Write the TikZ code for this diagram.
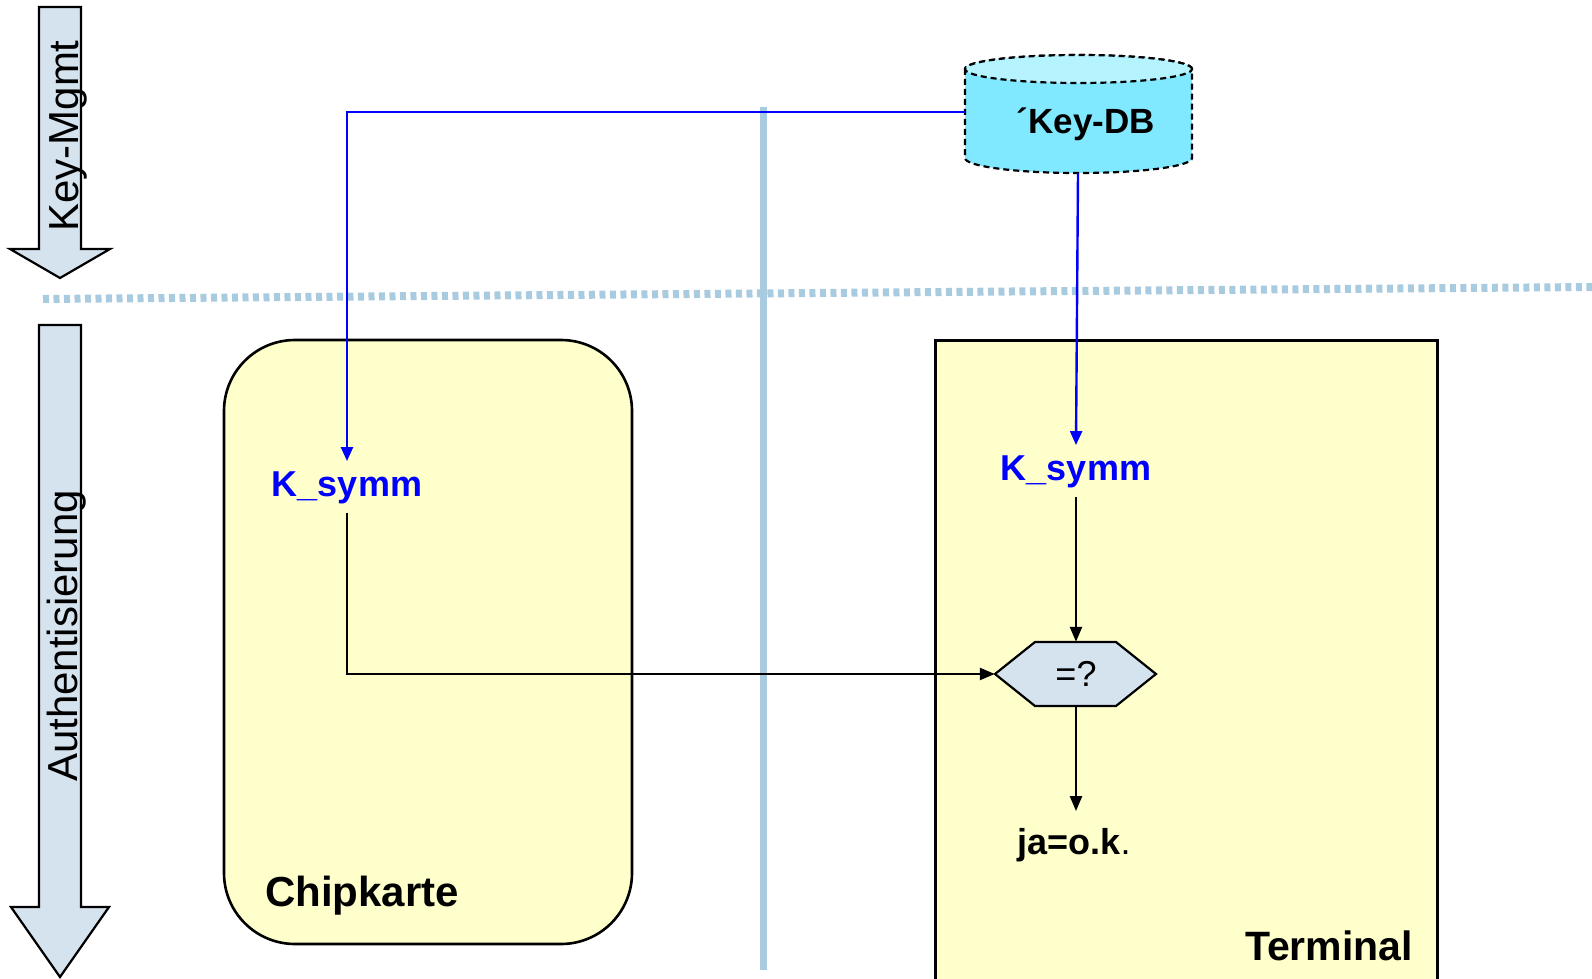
\documentclass[tikz,border=0pt]{standalone}
\usepackage{fontspec}
\setmainfont{Liberation Sans}
\usetikzlibrary{arrows.meta}

\definecolor{cardfill}{HTML}{FFFFCC}
\definecolor{phasefill}{HTML}{D5E3EF}
\definecolor{sepblue}{HTML}{A9CBE0}
\definecolor{dbbody}{HTML}{80E8FF}
\definecolor{dbtop}{HTML}{B5F3FF}
\definecolor{keyblue}{HTML}{0000FF}

\tikzset{
  phase/.style={draw=black, line width=2.2pt, fill=phasefill, line join=miter},
  phaselabel/.style={rotate=90, anchor=base, font=\fontsize{42}{46}\selectfont, inner sep=0pt},
  separator/.style={sepblue, line width=7pt},
  sepdots/.style={sepblue, line width=8pt, dash pattern=on 6pt off 4.5pt},
  box/.style={draw=black, line width=2.6pt, fill=cardfill},
  boxlabel/.style={font=\fontsize{42}{46}\selectfont\bfseries, inner sep=0pt},
  keylabel/.style={text=keyblue, font=\fontsize{36}{40}\selectfont\bfseries,
    inner xsep=4pt, inner ysep=9pt, text height=26pt, text depth=7.5pt},
  keyline/.style={draw=keyblue, line width=2.4pt, -{Triangle[length=14pt,width=12pt]}},
  flow/.style={draw=black, line width=2.4pt, -{Triangle[length=15pt,width=12pt]}},
  dbline/.style={draw=black, line width=2.2pt, dash pattern=on 6pt off 4pt}
}

\begin{document}
\begin{tikzpicture}[x=1pt, y=-1pt]
\useasboundingbox (0,0) rectangle (1592,979);

% phase arrows on the left
\path[phase] (39,7) -- (81,7) -- (81,249) -- (110,249) -- (60,278) -- (10,249) -- (39,249) -- cycle;
\node[phaselabel] (kmlabel) at (78,136) {Key-Mgmt};
\path[phase] (39,325) -- (81,325) -- (81,907) -- (109,907) -- (60,977) -- (11,907) -- (39,907) -- cycle;
\node[phaselabel] (authlabel) at (77,636) {Authentisierung};

% separators
\draw[separator] (763,107) -- (763,970);
\draw[sepdots] (43,299) -- (1592,287);

% card and terminal
\node[box, rounded corners=71pt, minimum width=408pt, minimum height=604pt, inner sep=0pt] (card) at (428,642) {};
\node[boxlabel] (cardlabel) at (362,896) {Chipkarte};
\node[box, minimum width=502pt, minimum height=660pt, inner sep=0pt, anchor=north west] (term) at (934,339) {};
\node[boxlabel, font=\fontsize{41}{45}\selectfont\bfseries] (termlabel) at (1329,946) {Terminal};

% key database cylinder
\path[dbline, fill=dbbody] (965,69) -- (965,158)
  arc[start angle=180, end angle=360, x radius=113.5pt, y radius=15pt]
  -- (1192,69)
  arc[start angle=0, end angle=180, x radius=113.5pt, y radius=14pt] -- cycle;
\path[dbline, fill=dbtop] (1078.5,69) ellipse [x radius=113.5pt, y radius=14pt];
\node[font=\fontsize{35}{38}\selectfont\bfseries, inner sep=0pt] (db) at (1086,124) {\symbol{"00B4}Key-DB};
\coordinate (dbL) at (965,112);
\coordinate (dbB) at (1078,173);

% keys
\node[keylabel] (ks1) at (347,487) {K\_symm};
\node[keylabel] (ks2) at (1076,471) {K\_symm};

% comparison
\path[draw=black, line width=2.2pt, fill=phasefill, line join=miter]
  (995,674) -- (1035,642) -- (1116,642) -- (1156,674) -- (1116,706) -- (1035,706) -- cycle;
\node[minimum width=162pt, minimum height=64pt, inner sep=0pt, font=\fontsize{36}{40}\selectfont] (cmp) at (1076,674) {=?};
\node[font=\fontsize{36}{40}\selectfont\bfseries, inner xsep=0pt, inner ysep=17pt, text height=26pt, text depth=7.5pt] (ok) at (1074,845) {ja=o.k{\mdseries .}};

% connectors
\draw[keyline] (dbL) -| (ks1.north);
\draw[keyline] (dbB) -- (ks2.north);
\draw[flow] (ks1.south) |- (cmp.west);
\draw[flow] (ks2.south) -- (cmp.north);
\draw[flow] (cmp.south) -- (cmp.south |- ok.north);
\end{tikzpicture}
\end{document}
